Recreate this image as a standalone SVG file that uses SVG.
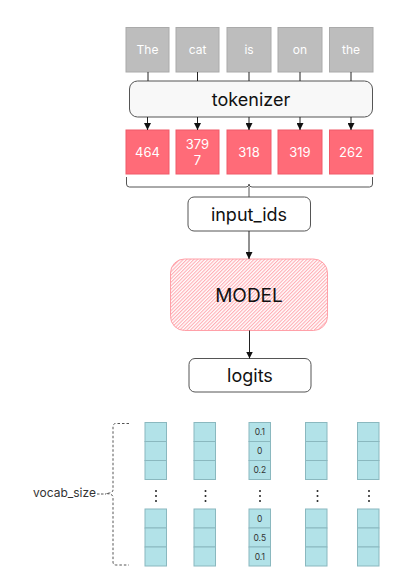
<svg xmlns="http://www.w3.org/2000/svg" width="416" height="587" viewBox="0 0 416 587">
<style>
text{font-family:"Inter","Liberation Sans",sans-serif}
.tok rect{fill:#bdbdbd;stroke:#aaaaaa;stroke-width:1}
.tok text{fill:#fff;font-size:12px;text-anchor:middle}
.id rect{fill:#ff6b78;stroke:#f05a68;stroke-width:1}
.id text{fill:#fff;font-size:13px;text-anchor:middle}
.box{fill:#fff;stroke:#555;stroke-width:1}
.lbl{fill:#111;font-size:18px;text-anchor:middle}
.cell{fill:#b2e2e8;stroke:#8ab8bf;stroke-width:1}
.num{fill:#333;font-size:8.5px;text-anchor:middle}
.dot{fill:#222}
.conn{stroke:#222;stroke-width:1;fill:none}
</style>
<defs>
<marker id="ah" viewBox="0 0 10 10" refX="10" refY="5" markerWidth="7" markerHeight="7" orient="auto">
<path d="M0,0 L10,5 L0,10 z" fill="#111"/>
</marker>
<pattern id="hatch" width="2.5" height="2.5" patternUnits="userSpaceOnUse" patternTransform="rotate(-45)">
<rect width="2.5" height="2.5" fill="#fff"/>
<rect width="2.5" height="1.1" fill="#ffadb4"/>
</pattern>
</defs>

<g id="tokens">
<g class="tok" id="tok-the"><rect x="126" y="27.5" width="43" height="44.5"/><text x="147.5" y="54">The</text></g>
<g class="tok" id="tok-cat"><rect x="176" y="27.5" width="43" height="44.5"/><text x="197.5" y="54">cat</text></g>
<g class="tok" id="tok-is"><rect x="227" y="27.5" width="44" height="44.5"/><text x="249" y="54">is</text></g>
<g class="tok" id="tok-on"><rect x="278" y="27.5" width="44" height="44.5"/><text x="300" y="54">on</text></g>
<g class="tok" id="tok-the2"><rect x="329.5" y="27.5" width="43.5" height="44.5"/><text x="351" y="54">the</text></g>
</g>

<g id="tokenizer">
<rect x="129.5" y="81" width="243" height="36" rx="8" fill="#f8f8f8" stroke="#555"/>
<text class="lbl" x="251" y="105.5">tokenizer</text>
</g>

<g id="ids">
<g class="id" id="id-464"><rect x="126" y="130" width="43" height="44"/><text x="147.5" y="157">464</text></g>
<g class="id" id="id-3797"><rect x="176" y="130" width="43" height="44"/><text x="197.5" y="149">379</text><text x="197.5" y="165">7</text></g>
<g class="id" id="id-318"><rect x="227" y="130" width="44" height="44"/><text x="249" y="157">318</text></g>
<g class="id" id="id-319"><rect x="278" y="130" width="44" height="44"/><text x="300" y="157">319</text></g>
<g class="id" id="id-262"><rect x="329.5" y="130" width="43.5" height="44"/><text x="351" y="157">262</text></g>
</g>

<g id="input_ids">
<rect class="box" x="188" y="197" width="122.5" height="34" rx="6"/>
<text class="lbl" x="249" y="221">input_ids</text>
</g>

<g id="model">
<rect x="170.5" y="259" width="157" height="71.5" rx="14" fill="url(#hatch)" stroke="#ffa0a8" stroke-width="1"/>
<text class="lbl" x="249" y="302" style="font-size:19px">MODEL</text>
</g>

<g id="logits">
<rect class="box" x="189" y="358.5" width="122" height="33.5" rx="6"/>
<text class="lbl" x="250" y="382">logits</text>
</g>

<g id="connectors">
<line class="conn" x1="148" y1="72" x2="148" y2="81"/>
<line class="conn" x1="197.5" y1="72" x2="197.5" y2="81"/>
<line class="conn" x1="249" y1="72" x2="249" y2="81"/>
<line class="conn" x1="300" y1="72" x2="300" y2="81"/>
<line class="conn" x1="351" y1="72" x2="351" y2="81"/>
<line class="conn" x1="147.5" y1="117" x2="147.5" y2="130" marker-end="url(#ah)"/>
<line class="conn" x1="197.5" y1="117" x2="197.5" y2="130" marker-end="url(#ah)"/>
<line class="conn" x1="249" y1="117" x2="249" y2="130" marker-end="url(#ah)"/>
<line class="conn" x1="300" y1="117" x2="300" y2="130" marker-end="url(#ah)"/>
<line class="conn" x1="351" y1="117" x2="351" y2="130" marker-end="url(#ah)"/>
<path d="M126.5,177 V184 Q126.5,187 129.5,187 H246 Q249,187 249,184 Q249,187 252,187 H369.5 Q372.5,187 372.5,184 V177" fill="none" stroke="#555" stroke-width="1"/>
<line x1="249" y1="187" x2="249" y2="197" stroke="#555" stroke-width="1"/>
<line class="conn" x1="249" y1="231" x2="249" y2="259" marker-end="url(#ah)"/>
<line class="conn" x1="249.5" y1="330.5" x2="249.5" y2="358.5" marker-end="url(#ah)"/>
</g>

<g id="vocab">
<text x="33" y="497" style="font-size:12px;fill:#333">vocab_size</text>
<path d="M129,423.5 H116 Q113,423.5 113,426.5 V490 Q113,493 106,493.5 Q113,494 113,497 V562 Q113,565 116,565 H129" fill="none" stroke="#555" stroke-width="1" stroke-dasharray="2.5,2"/>
<line x1="97" y1="494" x2="106" y2="494" stroke="#555" stroke-width="1" stroke-dasharray="2.5,1.5"/>
</g>

<g id="columns">
<g id="col1">
<rect class="cell" x="145" y="422.5" width="21.5" height="19"/><rect class="cell" x="145" y="441.5" width="21.5" height="19"/><rect class="cell" x="145" y="460.5" width="21.5" height="19"/>
<circle class="dot" cx="156" cy="491" r="1"/><circle class="dot" cx="156" cy="496" r="1"/><circle class="dot" cx="156" cy="501" r="1"/>
<rect class="cell" x="145" y="509" width="21.5" height="19"/><rect class="cell" x="145" y="528" width="21.5" height="19"/><rect class="cell" x="145" y="547" width="21.5" height="19"/>
</g>
<g id="col2">
<rect class="cell" x="194" y="422.5" width="21.5" height="19"/><rect class="cell" x="194" y="441.5" width="21.5" height="19"/><rect class="cell" x="194" y="460.5" width="21.5" height="19"/>
<circle class="dot" cx="205.5" cy="491" r="1"/><circle class="dot" cx="205.5" cy="496" r="1"/><circle class="dot" cx="205.5" cy="501" r="1"/>
<rect class="cell" x="194" y="509" width="21.5" height="19"/><rect class="cell" x="194" y="528" width="21.5" height="19"/><rect class="cell" x="194" y="547" width="21.5" height="19"/>
</g>
<g id="col3">
<rect class="cell" x="249" y="422.5" width="21.5" height="19"/><rect class="cell" x="249" y="441.5" width="21.5" height="19"/><rect class="cell" x="249" y="460.5" width="21.5" height="19"/>
<text class="num" x="259.8" y="435">0.1</text><text class="num" x="259.8" y="454">0</text><text class="num" x="259.8" y="473">0.2</text>
<circle class="dot" cx="260" cy="491" r="1"/><circle class="dot" cx="260" cy="496" r="1"/><circle class="dot" cx="260" cy="501" r="1"/>
<rect class="cell" x="249" y="509" width="21.5" height="19"/><rect class="cell" x="249" y="528" width="21.5" height="19"/><rect class="cell" x="249" y="547" width="21.5" height="19"/>
<text class="num" x="259.8" y="521.5">0</text><text class="num" x="259.8" y="540.5">0.5</text><text class="num" x="259.8" y="559.5">0.1</text>
</g>
<g id="col4">
<rect class="cell" x="305.5" y="422.5" width="21.5" height="19"/><rect class="cell" x="305.5" y="441.5" width="21.5" height="19"/><rect class="cell" x="305.5" y="460.5" width="21.5" height="19"/>
<circle class="dot" cx="317.5" cy="491" r="1"/><circle class="dot" cx="317.5" cy="496" r="1"/><circle class="dot" cx="317.5" cy="501" r="1"/>
<rect class="cell" x="305.5" y="509" width="21.5" height="19"/><rect class="cell" x="305.5" y="528" width="21.5" height="19"/><rect class="cell" x="305.5" y="547" width="21.5" height="19"/>
</g>
<g id="col5">
<rect class="cell" x="357.5" y="422.5" width="21.5" height="19"/><rect class="cell" x="357.5" y="441.5" width="21.5" height="19"/><rect class="cell" x="357.5" y="460.5" width="21.5" height="19"/>
<circle class="dot" cx="369" cy="491" r="1"/><circle class="dot" cx="369" cy="496" r="1"/><circle class="dot" cx="369" cy="501" r="1"/>
<rect class="cell" x="357.5" y="509" width="21.5" height="19"/><rect class="cell" x="357.5" y="528" width="21.5" height="19"/><rect class="cell" x="357.5" y="547" width="21.5" height="19"/>
</g>
</g>
</svg>
